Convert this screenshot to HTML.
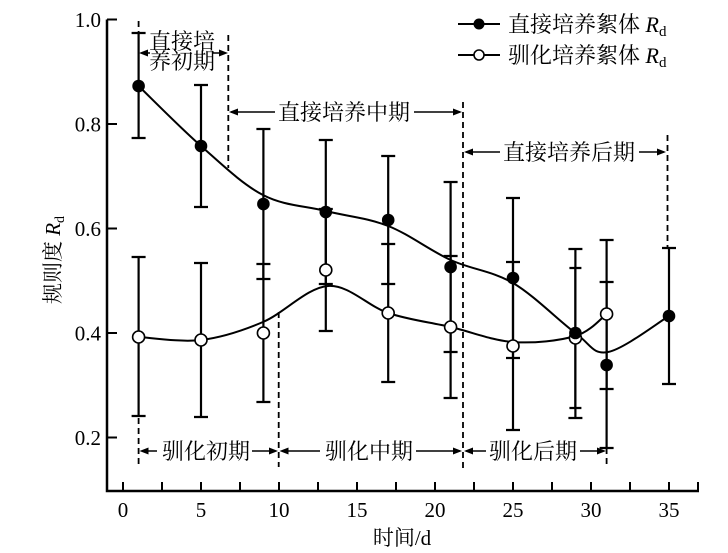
<!DOCTYPE html>
<html><head><meta charset="utf-8"><style>
html,body{margin:0;padding:0;background:#fff;}
svg{display:block;}
text{font-family:"Liberation Serif","Noto Serif CJK SC",serif;fill:#000;}
</style></head><body>
<svg width="728" height="553" viewBox="0 0 728 553" xmlns="http://www.w3.org/2000/svg">
<rect width="728" height="553" fill="#fff"/>
<!-- axes -->
<g stroke="#000" stroke-width="2.5" fill="none">
<path d="M107,19.5 V491 H699"/>
</g>
<g stroke="#000" stroke-width="2">
<line x1="107" y1="19.5" x2="117" y2="19.5"/>
<line x1="107" y1="124" x2="117" y2="124"/>
<line x1="107" y1="228.5" x2="117" y2="228.5"/>
<line x1="107" y1="333" x2="117" y2="333"/>
<line x1="107" y1="437.5" x2="117" y2="437.5"/>
<line x1="123" y1="491" x2="123" y2="482"/>
<line x1="162" y1="491" x2="162" y2="482"/>
<line x1="201" y1="491" x2="201" y2="482"/>
<line x1="240" y1="491" x2="240" y2="482"/>
<line x1="279" y1="491" x2="279" y2="482"/>
<line x1="318" y1="491" x2="318" y2="482"/>
<line x1="357" y1="491" x2="357" y2="482"/>
<line x1="396" y1="491" x2="396" y2="482"/>
<line x1="435" y1="491" x2="435" y2="482"/>
<line x1="474" y1="491" x2="474" y2="482"/>
<line x1="513" y1="491" x2="513" y2="482"/>
<line x1="552" y1="491" x2="552" y2="482"/>
<line x1="591" y1="491" x2="591" y2="482"/>
<line x1="630" y1="491" x2="630" y2="482"/>
<line x1="669" y1="491" x2="669" y2="482"/>
<line x1="698" y1="491" x2="698" y2="482"/>
</g>
<!-- tick labels -->
<g font-size="21" text-anchor="end">
<text x="101" y="27">1.0</text>
<text x="101" y="131.5">0.8</text>
<text x="101" y="236">0.6</text>
<text x="101" y="340.5">0.4</text>
<text x="101" y="445">0.2</text>
</g>
<g font-size="21" text-anchor="middle">
<text x="123" y="517">0</text>
<text x="201" y="517">5</text>
<text x="279" y="517">10</text>
<text x="357" y="517">15</text>
<text x="435" y="517">20</text>
<text x="513" y="517">25</text>
<text x="591" y="517">30</text>
<text x="669" y="517">35</text>
</g>
<text x="402" y="545" font-size="21" text-anchor="middle">时间/d</text>
<text transform="translate(60,260) rotate(-90)" font-size="21" text-anchor="middle">规则度 <tspan font-style="italic">R</tspan><tspan font-size="14" dy="4">d</tspan></text>

<!-- dashed lines -->
<g stroke="#000" stroke-width="1.8" stroke-dasharray="6,4" fill="none">
<line x1="138.6" y1="21" x2="138.6" y2="33"/>
<line x1="138.6" y1="418" x2="138.6" y2="464"/>
<line x1="228.3" y1="35" x2="228.3" y2="168"/>
<line x1="278.7" y1="312" x2="278.7" y2="467"/>
<line x1="463" y1="102" x2="463" y2="471"/>
<line x1="667.5" y1="135" x2="667.5" y2="248"/>
<line x1="606.6" y1="448" x2="606.6" y2="468"/>
</g>

<!-- annotation arrows -->
<g stroke="#000" stroke-width="1.5" fill="none">
<line x1="142" y1="53" x2="150" y2="53"/>
<line x1="213" y1="53" x2="225" y2="53"/>
<line x1="231" y1="112" x2="275" y2="112"/>
<line x1="414" y1="112" x2="460" y2="112"/>
<line x1="466" y1="152" x2="500" y2="152"/>
<line x1="639" y1="152" x2="664" y2="152"/>
<line x1="142" y1="451" x2="157" y2="451"/>
<line x1="252" y1="451" x2="275" y2="451"/>
<line x1="282" y1="451" x2="320" y2="451"/>
<line x1="416" y1="451" x2="460" y2="451"/>
<line x1="466" y1="451" x2="486" y2="451"/>
<line x1="580" y1="451" x2="603" y2="451"/>
</g>
<g fill="#000">
<path d="M139,53 l9,-3.5 v7z"/>
<path d="M228,53 l-9,-3.5 v7z"/>
<path d="M229,112 l9,-3.5 v7z"/>
<path d="M462,112 l-9,-3.5 v7z"/>
<path d="M464,152 l9,-3.5 v7z"/>
<path d="M666,152 l-9,-3.5 v7z"/>
<path d="M139.5,451 l9,-3.5 v7z"/>
<path d="M278,451 l-9,-3.5 v7z"/>
<path d="M279.5,451 l9,-3.5 v7z"/>
<path d="M462,451 l-9,-3.5 v7z"/>
<path d="M464,451 l9,-3.5 v7z"/>
<path d="M606,451 l-9,-3.5 v7z"/>
</g>
<g font-size="22" text-anchor="middle">
<text x="182" y="49">直接培</text>
<text x="182" y="69">养初期</text>
<text x="344" y="120">直接培养中期</text>
<text x="569" y="160">直接培养后期</text>
<text x="206" y="459">驯化初期</text>
<text x="369" y="459">驯化中期</text>
<text x="533" y="459">驯化后期</text>
</g>

<!-- curves -->
<g stroke="#000" stroke-width="2" fill="none">
<path d="M138.6,86 C149,96 180.3,127.8 201,146 C221.7,164.2 242.2,184.2 263,195 C283.8,205.8 304.9,205.8 325.8,211 C346.7,216.2 367.4,217.8 388.2,226 C409,234.2 429.8,250.5 450.6,260 C471.4,269.5 492.2,270.8 513,283 C533.8,295.2 559.6,321.5 575.4,333 C591.2,344.5 592.4,354.8 608,352 C623.6,349.2 658.8,322 669,316"/>
<path d="M138.6,337 C149,337.5 180.3,342.5 201,340 C221.7,337.5 241.8,331 263,322 C284.2,313 307.1,287.5 328,286 C348.9,284.5 367.8,306.2 388.2,313 C408.6,319.8 429.8,322.2 450.6,327 C471.4,331.8 492.2,340.5 513,342 C533.8,343.5 559.8,340.7 575.4,336 C591,331.3 601.4,317.7 606.6,314"/>
</g>

<!-- error bars -->
<g stroke="#000" stroke-width="2.2" fill="none">
<!-- filled -->
<path d="M138.6,33V138 M131.6,33h14 M131.6,138h14"/>
<path d="M201,85V207 M194,85h14 M194,207h14"/>
<path d="M263.4,129V279 M256.4,129h14 M256.4,279h14"/>
<path d="M325.8,140V284 M318.8,140h14 M318.8,284h14"/>
<path d="M388.2,156V284 M381.2,156h14 M381.2,284h14"/>
<path d="M450.6,182V352 M443.6,182h14 M443.6,352h14"/>
<path d="M513,198V358 M506,198h14 M506,358h14"/>
<path d="M575.4,249V418 M568.4,249h14 M568.4,418h14"/>
<path d="M606.6,282V448 M599.6,282h14 M599.6,448h14"/>
<path d="M669,248V384 M662,248h14 M662,384h14"/>
<!-- open -->
<path d="M138.6,257V416 M131.6,257h14 M131.6,416h14"/>
<path d="M201,263V417 M194,263h14 M194,417h14"/>
<path d="M263.4,264V402 M256.4,264h14 M256.4,402h14"/>
<path d="M325.8,209V331 M318.8,209h14 M318.8,331h14"/>
<path d="M388.2,244V382 M381.2,244h14 M381.2,382h14"/>
<path d="M450.6,256V398 M443.6,256h14 M443.6,398h14"/>
<path d="M513,262V430 M506,262h14 M506,430h14"/>
<path d="M575.4,268V408 M569.4,268h12 M569.4,408h12"/>
<path d="M606.6,240V389 M599.6,240h14 M599.6,389h14"/>
</g>

<!-- open markers -->
<g fill="#fff" stroke="#000" stroke-width="1.6">
<circle cx="138.6" cy="337" r="6"/>
<circle cx="201" cy="340" r="6"/>
<circle cx="263.4" cy="333" r="6"/>
<circle cx="325.8" cy="270" r="6"/>
<circle cx="388.2" cy="313" r="6"/>
<circle cx="450.6" cy="327" r="6"/>
<circle cx="513" cy="346" r="6"/>
<circle cx="575.4" cy="338" r="6"/>
<circle cx="606.6" cy="314" r="6"/>
</g>
<!-- filled markers -->
<g fill="#000">
<circle cx="138.6" cy="86" r="6.3"/>
<circle cx="201" cy="146" r="6.3"/>
<circle cx="263.4" cy="204" r="6.3"/>
<circle cx="325.8" cy="212" r="6.3"/>
<circle cx="388.2" cy="220" r="6.3"/>
<circle cx="450.6" cy="267" r="6.3"/>
<circle cx="513" cy="278" r="6.3"/>
<circle cx="575.4" cy="333" r="6.3"/>
<circle cx="606.6" cy="365" r="6.3"/>
<circle cx="669" cy="316" r="6.3"/>
</g>

<!-- legend -->
<g stroke="#000" stroke-width="2">
<line x1="458" y1="24" x2="500" y2="24"/>
<line x1="458" y1="55" x2="500" y2="55"/>
</g>
<circle cx="479" cy="24" r="5.5" fill="#000"/>
<circle cx="479" cy="55" r="5" fill="#fff" stroke="#000" stroke-width="1.6"/>
<text x="508" y="32" font-size="22">直接培养絮体 <tspan font-style="italic">R</tspan><tspan font-size="15" dy="4">d</tspan></text>
<text x="508" y="63" font-size="22">驯化培养絮体 <tspan font-style="italic">R</tspan><tspan font-size="15" dy="4">d</tspan></text>
</svg>
</body></html>
